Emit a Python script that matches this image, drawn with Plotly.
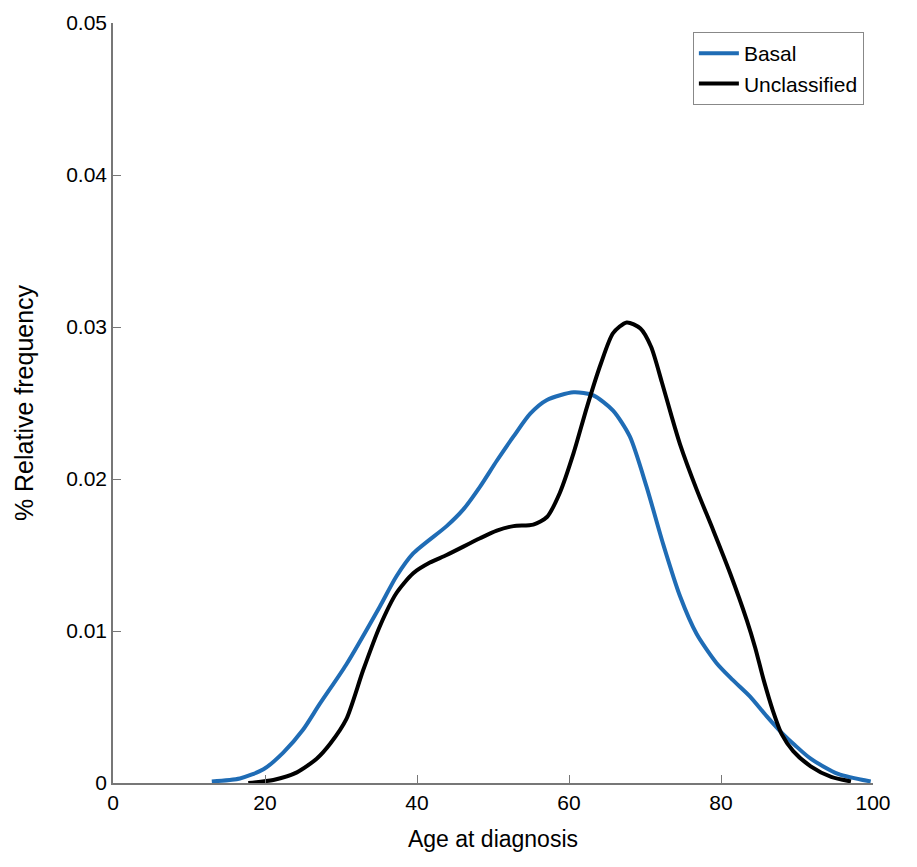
import plotly.graph_objects as go

basal_x = [13.0, 16.7, 19.8, 22.4, 25.0, 27.2, 30.7, 35.1, 37.3, 39.5, 43.9, 46.1, 48.3, 50.5, 52.7, 54.9,
           57.1, 60.6, 63.2, 65.8, 68.0, 70.2, 72.4, 74.6, 76.8, 79.4, 81.5, 83.8, 86.0, 88.0, 89.7, 91.8,
           95.4, 99.7]
basal_y = [0.0001, 0.0003, 0.0009, 0.0020, 0.0035, 0.0052, 0.0078, 0.0116, 0.0136, 0.0151, 0.0169, 0.0180,
           0.0195, 0.0212, 0.0228, 0.0243, 0.0252, 0.0257, 0.0255, 0.0245, 0.0228, 0.0195, 0.0157, 0.0123,
           0.0098, 0.0079, 0.0068, 0.0057, 0.0044, 0.0033, 0.0025, 0.0016, 0.0006, 0.0001]

uncl_x = [17.8, 21.1, 24.2, 26.8, 28.6, 30.7, 32.9, 35.1, 37.3, 39.5, 41.7, 43.9, 48.3, 50.5, 52.7, 55.3,
          57.1, 58.8, 60.6, 62.4, 64.2, 65.8, 67.6, 69.4, 70.8, 72.2, 73.4, 74.6, 76.8, 79.0, 81.2, 83.4,
          84.5, 85.6, 86.8, 88.0, 89.5, 91.8, 94.5, 97.1]
uncl_y = [0.0, 0.0002, 0.0007, 0.0016, 0.0026, 0.0042, 0.0074, 0.0103, 0.0125, 0.0138, 0.0145, 0.0150,
          0.0161, 0.0166, 0.0169, 0.0170, 0.0175, 0.0191, 0.0217, 0.0248, 0.0276, 0.0296, 0.0303, 0.0299,
          0.0287, 0.0264, 0.0243, 0.0223, 0.0193, 0.0166, 0.0138, 0.0107, 0.0089, 0.0068, 0.0048, 0.0032,
          0.0021, 0.0011, 0.0004, 0.0001]

x_ticks = [0, 20, 40, 60, 80, 100]
y_ticks = [0, 0.01, 0.02, 0.03, 0.04, 0.05]
y_tick_text = ["0", "0.01", "0.02", "0.03", "0.04", "0.05"]

fig = go.Figure()
fig.add_trace(go.Scatter(x=basal_x, y=basal_y, mode="lines", name="Basal",
                         line=dict(color="#1f6cb5", width=4, shape="spline", smoothing=0.7)))
fig.add_trace(go.Scatter(x=uncl_x, y=uncl_y, mode="lines", name="Unclassified",
                         line=dict(color="black", width=4, shape="spline", smoothing=0.7)))

font = "Liberation Sans, Arial, sans-serif"
fig.update_layout(
    width=901, height=851,
    margin=dict(l=105, r=36, t=15, b=76),
    paper_bgcolor="white", plot_bgcolor="white",
    font=dict(family=font, color="black", size=21),
    showlegend=True,
    legend=dict(x=0.988, y=0.988, xanchor="right", yanchor="top",
                bgcolor="white", bordercolor="#888888", borderwidth=1,
                font=dict(size=21, family=font, color="black"),
                itemwidth=40, tracegroupgap=0),
    xaxis=dict(range=[0, 100], tickvals=x_ticks, ticks="inside", ticklen=8,
               tickcolor="#777777", showline=True, linecolor="#777777", linewidth=1.5,
               showgrid=False, zeroline=False, automargin=False,
               tickfont=dict(size=21),
               title=dict(text="Age at diagnosis", font=dict(size=23), standoff=18)),
    yaxis=dict(range=[0, 0.05], tickvals=y_ticks, ticktext=y_tick_text, ticks="inside", ticklen=8,
               tickcolor="#777777", showline=True, linecolor="#777777", linewidth=1.5,
               showgrid=False, zeroline=False, automargin=False,
               tickfont=dict(size=21),
               title=dict(text="% Relative frequency", font=dict(size=25), standoff=25)),
)

fig.write_html("out.html")
